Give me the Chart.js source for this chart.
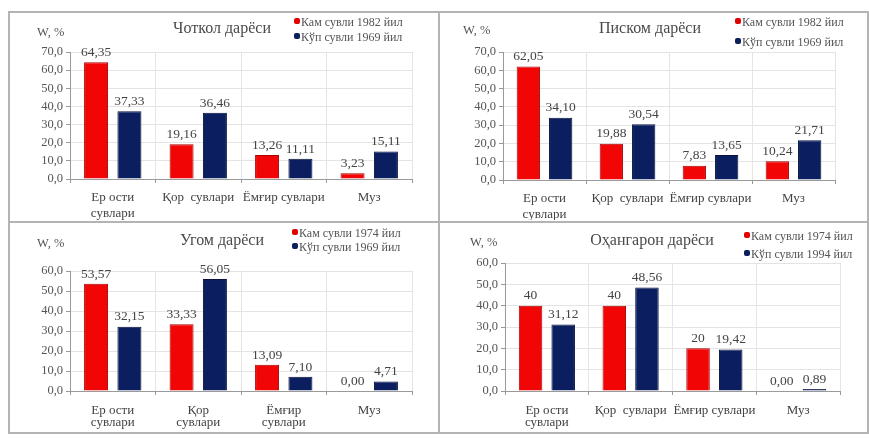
<!DOCTYPE html>
<html>
<head>
<meta charset="utf-8">
<script src="https://cdn.jsdelivr.net/npm/chart.js@4/dist/chart.umd.min.js"></script>
<style>
  html, body { margin: 0; padding: 0; background: #fff; }
  #wrap { position: relative; width: 869px; height: 438px; overflow: hidden; background: #fff; font-family: "Liberation Serif", "DejaVu Serif", serif; color: #444; }
  canvas { position: absolute; }
  .box { position: absolute; border: 2px solid #b4b4b4; box-sizing: border-box; }
  .line { position: absolute; background: #b4b4b4; }
  .t { position: absolute; white-space: nowrap; line-height: 1; }
  .title { font-size: 16px; transform: translate(-50%, -50%); color: #4a4a4a; }
  .wl { font-size: 12.5px; transform: translateY(-50%); color: #555; }
  .lg { font-size: 12px; transform: translateY(-50%); color: #555; }
  .mk { display: inline-block; width: 6px; height: 6px; border-radius: 2px; margin-right: 1px; vertical-align: 2px; }
</style>
</head>
<body>
<div id="wrap">
  <div class="box" style="left:8px;top:11px;width:861px;height:423px;"></div>
  <div class="line" style="left:438px;top:11px;width:2px;height:423px;"></div>
  <div class="line" style="left:8px;top:221px;width:861px;height:2px;"></div>

  <canvas id="c1" width="427" height="207" style="left:10px;top:13px;width:427px;height:207px;"></canvas>
  <canvas id="c2" width="426" height="207" style="left:441px;top:13px;width:426px;height:207px;"></canvas>
  <canvas id="c3" width="427" height="206" style="left:10px;top:224px;width:427px;height:206px;"></canvas>
  <canvas id="c4" width="426" height="206" style="left:441px;top:224px;width:426px;height:206px;"></canvas>

  <div class="t wl" style="left:37px;top:32px;">W, %</div>
  <div class="t title" style="left:222px;top:28px;">Чоткол дарёси</div>
  <div class="t lg" style="left:294px;top:22px;"><span class="mk" style="background:#e00000"></span>Кам сувли 1982 йил</div>
  <div class="t lg" style="left:294px;top:37px;"><span class="mk" style="background:#0a1f5c"></span>Кўп сувли 1969 йил</div>

  <div class="t wl" style="left:463px;top:30px;">W, %</div>
  <div class="t title" style="left:650px;top:28px;">Писком дарёси</div>
  <div class="t lg" style="left:735px;top:22px;"><span class="mk" style="background:#e00000"></span>Кам сувли 1982 йил</div>
  <div class="t lg" style="left:735px;top:42px;"><span class="mk" style="background:#0a1f5c"></span>Кўп сувли 1969 йил</div>

  <div class="t wl" style="left:37px;top:243px;">W, %</div>
  <div class="t title" style="left:222px;top:240px;">Угом дарёси</div>
  <div class="t lg" style="left:292px;top:233px;"><span class="mk" style="background:#e00000"></span>Кам сувли 1974 йил</div>
  <div class="t lg" style="left:292px;top:247px;"><span class="mk" style="background:#0a1f5c"></span>Кўп сувли 1969 йил</div>

  <div class="t wl" style="left:470px;top:242px;">W, %</div>
  <div class="t title" style="left:652px;top:240px;">Оҳангарон дарёси</div>
  <div class="t lg" style="left:744px;top:236px;"><span class="mk" style="background:#e00000"></span>Кам сувли 1974 йил</div>
  <div class="t lg" style="left:744px;top:254px;"><span class="mk" style="background:#0a1f5c"></span>Кўп сувли 1994 йил</div>
</div>
<script>
// ---- data ----
const categoriesA = [["Ер ости", "сувлари"], "Қор  сувлари", "Ёмғир сувлари", "Муз"];
const categoriesB = [["Ер ости", "сувлари"], ["Қор", "сувлари"], ["Ёмғир", "сувлари"], "Муз"];
const categoriesC = [["Ер ости", "сувлари"], "Қор  сувлари", "Ёмғир сувлари", "Муз"];

const chotkolLow  = [64.35, 19.16, 13.26, 3.23];
const chotkolHigh = [37.33, 36.46, 11.11, 15.11];
const chotkolLowText  = ["64,35", "19,16", "13,26", "3,23"];
const chotkolHighText = ["37,33", "36,46", "11,11", "15,11"];

const piskomLow  = [62.05, 19.88, 7.83, 10.24];
const piskomHigh = [34.10, 30.54, 13.65, 21.71];
const piskomLowText  = ["62,05", "19,88", "7,83", "10,24"];
const piskomHighText = ["34,10", "30,54", "13,65", "21,71"];

const ugomLow  = [53.57, 33.33, 13.09, 0.00];
const ugomHigh = [32.15, 56.05, 7.10, 4.71];
const ugomLowText  = ["53,57", "33,33", "13,09", "0,00"];
const ugomHighText = ["32,15", "56,05", "7,10", "4,71"];

const ohangaronLow  = [40, 40, 20, 0.00];
const ohangaronHigh = [31.12, 48.56, 19.42, 0.89];
const ohangaronLowText  = ["40", "40", "20", "0,00"];
const ohangaronHighText = ["31,12", "48,56", "19,42", "0,89"];

const yMaxTop = 70, yMaxBottom = 60, yStep = 10;

// ---- rendering ----
const FONT = "'Liberation Serif', 'DejaVu Serif', serif";
const valueLabels = {
  id: 'valueLabels',
  afterDatasetsDraw(chart) {
    const ctx = chart.ctx;
    ctx.save();
    ctx.font = "13.5px " + FONT;
    ctx.fillStyle = "#444";
    ctx.textAlign = "center";
    ctx.textBaseline = "bottom";
    chart.data.datasets.forEach((ds, i) => {
      const meta = chart.getDatasetMeta(i);
      meta.data.forEach((bar, j) => {
        ctx.fillText(ds.valueText[j], bar.x, bar.y - 3);
      });
    });
    ctx.restore();
  }
};

function makeChart(id, cats, low, high, lowText, highText, yMax, lay) {
  new Chart(document.getElementById(id), {
    type: 'bar',
    data: {
      labels: cats,
      datasets: [
        { data: low, valueText: lowText, backgroundColor: '#f20505', borderColor: '#a80000', borderWidth: 1,
          categoryPercentage: 0.78, barPercentage: 0.72 },
        { data: high, valueText: highText, backgroundColor: '#0b1f60', borderColor: '#06123c', borderWidth: 1,
          categoryPercentage: 0.78, barPercentage: 0.72 }
      ]
    },
    plugins: [valueLabels],
    options: {
      responsive: false,
      animation: false,
      devicePixelRatio: 1,
      layout: { padding: { top: lay.top, right: lay.right, left: 0, bottom: 0 } },
      plugins: { legend: { display: false }, title: { display: false }, tooltip: { enabled: false } },
      scales: {
        x: {
          grid: { offset: true, color: '#e4e4e4', tickColor: '#999', tickLength: 4, drawOnChartArea: true },
          border: { color: '#9a9a9a', width: 1 },
          ticks: { color: '#444', font: { family: FONT, size: 13, lineHeight: lay.lh }, padding: lay.xpad, maxRotation: 0, autoSkip: false },
          afterFit: (s) => { s.height = lay.xh; }
        },
        y: {
          min: 0, max: yMax,
          grid: { color: '#e4e4e4', tickColor: '#999', tickLength: 4 },
          border: { color: '#9a9a9a', width: 1 },
          ticks: { stepSize: yStep, color: '#555', font: { family: FONT, size: 12.5 }, padding: 3,
                   callback: (v) => v.toFixed(1).replace('.', ',') },
          afterFit: (s) => { s.width = lay.yw; }
        }
      }
    }
  });
}

makeChart('c1', categoriesA, chotkolLow, chotkolHigh, chotkolLowText, chotkolHighText, yMaxTop,
  { top: 39, right: 25, yw: 60, xh: 41, lh: 1.2, xpad: 7 });
makeChart('c2', categoriesA, piskomLow, piskomHigh, piskomLowText, piskomHighText, yMaxTop,
  { top: 39, right: 32, yw: 62, xh: 40, lh: 1.2, xpad: 7 });
makeChart('c3', categoriesB, ugomLow, ugomHigh, ugomLowText, ugomHighText, yMaxBottom,
  { top: 47, right: 25, yw: 60, xh: 39, lh: 0.88, xpad: 10 });
makeChart('c4', categoriesC, ohangaronLow, ohangaronHigh, ohangaronLowText, ohangaronHighText, yMaxBottom,
  { top: 39, right: 27, yw: 64, xh: 39, lh: 0.88, xpad: 10 });
</script>
</body>
</html>
